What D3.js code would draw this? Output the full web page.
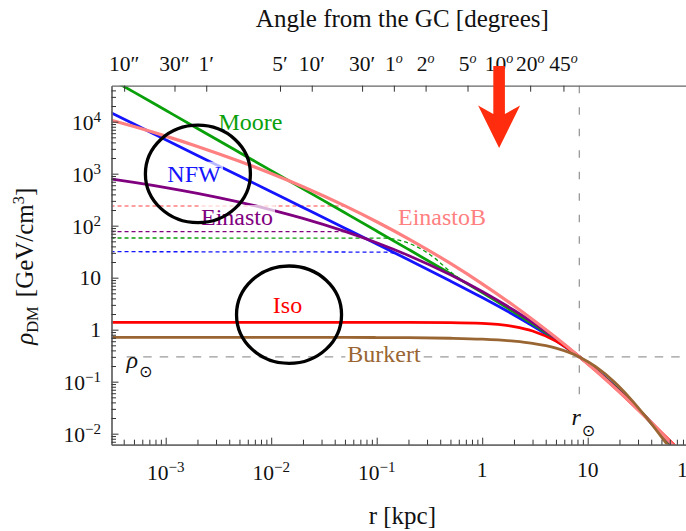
<!DOCTYPE html>
<html>
<head>
<meta charset="utf-8">
<script src="https://cdn.jsdelivr.net/npm/d3@7"></script>
<style>
  html, body { margin: 0; padding: 0; background: #fff; }
  svg { display: block; font-family: "Liberation Serif", "Times New Roman", "DejaVu Serif", serif; }
</style>
</head>
<body>
<svg id="chart" width="686" height="531"></svg>
<script>
// Galactocentric radius samples [kpc]
const radii = [3e-4, 5e-4, 1e-3, 2e-3, 5e-3, 0.01, 0.02, 0.05, 0.1, 0.2, 0.5, 1, 2, 3, 5, 8.33, 12, 18, 25, 35, 50, 70, 100];

// Dark matter density [GeV/cm^3] for each profile at the radii above
const rhoNFW      = [14980, 8987, 4493, 2246, 898.3, 449.0, 224.3, 89.50, 44.57, 22.10, 8.630, 4.147, 1.919, 1.188, 0.6192, 0.2999, 0.1683, 0.08273, 0.04388, 0.02168, 0.009676, 0.004294, 0.001731];
const rhoMoore    = [66970, 37030, 16570, 7415, 2561, 1146, 512.4, 176.7, 78.84, 35.07, 11.90, 5.169, 2.183, 1.289, 0.6403, 0.3000, 0.1662, 0.08137, 0.04332, 0.02159, 0.009761, 0.004387, 0.001792];
const rhoEinasto  = [793.4, 681.5, 542.2, 419.2, 283.8, 202.3, 138.3, 77.62, 47.07, 26.80, 11.41, 5.444, 2.367, 1.387, 0.6697, 0.3029, 0.1643, 0.07957, 0.04259, 0.02163, 0.01010, 0.004711, 0.001999];
const rhoEinastoB = [10770, 8049, 5279, 3348, 1735, 1007, 560.2, 240.0, 119.2, 55.97, 18.79, 7.622, 2.881, 1.573, 0.7059, 0.3025, 0.1602, 0.07669, 0.04120, 0.02129, 0.01029, 0.005047, 0.002303];
const rhoIso      = [1.387, 1.387, 1.387, 1.387, 1.387, 1.387, 1.387, 1.387, 1.386, 1.384, 1.369, 1.318, 1.148, 0.9441, 0.6022, 0.3004, 0.1631, 0.07754, 0.04131, 0.02139, 0.01056, 0.005409, 0.002656];
const rhoBurkert  = [0.7120, 0.7120, 0.7119, 0.7119, 0.7117, 0.7114, 0.7109, 0.7092, 0.7064, 0.7008, 0.6839, 0.6558, 0.6000, 0.5451, 0.4417, 0.2999, 0.1928, 0.09745, 0.04894, 0.02193, 0.008685, 0.003462, 0.001265];

// Smoothed (cored) versions of the cuspy profiles
const smoothEinastoBR   = [3e-4, 0.05];
const smoothEinastoBRho = [239, 239];
const smoothEinastoR    = [3e-4, 0.05];
const smoothEinastoRho  = [76.6, 76.6];
const smoothMooreR      = [3e-4, 0.12, 0.166, 0.258, 0.357, 0.5, 0.65];
const smoothMooreRho    = [58, 57.5, 52, 36.5, 23.5, 13.0, 8.7];
const smoothNFWR        = [3e-4, 0.12, 0.145, 0.17];
const smoothNFWRho      = [31.6, 31.0, 29.3, 26.2];

// Solar position
const rSun = 8.33;
const rhoSun = 0.3;

// Top axis: angle from the Galactic Centre
const angleLabels  = ["10″", "30″", "1′", "5′", "10′", "30′", "1°", "2°", "5°", "10°", "20°", "45°"];
const angleDegrees = [10 / 3600, 30 / 3600, 1 / 60, 5 / 60, 10 / 60, 0.5, 1, 2, 5, 10, 20, 45];

// Bottom / left axis decades
const xDecades = [-3, -2, -1, 0, 1, 2];
const yDecades = [-2, -1, 0, 1, 2, 3, 4];

const plot = { left: 111.5, right: 693.2, top: 85.7, bottom: 444.7 };
const x = d3.scaleLog().domain([3.064e-4, 100]).range([plot.left, plot.right]);
const y = d3.scaleLog().domain([0.00614, 49200]).range([plot.bottom, plot.top]);

const svg = d3.select("#chart");
svg.append("defs").append("clipPath").attr("id", "plotClip")
  .append("rect")
  .attr("x", plot.left).attr("y", plot.top)
  .attr("width", plot.right - plot.left).attr("height", plot.bottom - plot.top);

const colors = {
  Moore: "#0aa00a",
  NFW: "#1414ff",
  Einasto: "#800080",
  EinastoB: "#ff8080",
  Iso: "#ff0000",
  Burkert: "#996633"
};

const line = d3.line()
  .x(d => x(d[0]))
  .y(d => y(d[1]))
  .curve(d3.curveMonotoneX);

const zip = (a, b) => a.map((v, i) => [v, b[i]]);

// ---- reference lines for the solar position ----
const ref = svg.append("g").attr("stroke", "#9a9a9a").attr("stroke-width", 1.3).attr("fill", "none");
ref.append("line")
  .attr("x1", 126.7).attr("x2", plot.right)
  .attr("y1", y(rhoSun)).attr("y2", y(rhoSun))
  .attr("stroke-dasharray", "8.5,8");
ref.append("line")
  .attr("x1", x(rSun)).attr("x2", x(rSun))
  .attr("y1", plot.top).attr("y2", 400)
  .attr("stroke-dasharray", "7.5,14");

// Burkert label sits on the dashed line with an opaque backing
const burkertLabel = svg.append("g");

// ---- curves ----
const curves = svg.append("g").attr("clip-path", "url(#plotClip)").attr("fill", "none");

const smoothed = [
  { r: smoothEinastoBR, rho: smoothEinastoBRho, color: colors.EinastoB },
  { r: smoothEinastoR,  rho: smoothEinastoRho,  color: colors.Einasto },
  { r: smoothMooreR,    rho: smoothMooreRho,    color: colors.Moore },
  { r: smoothNFWR,      rho: smoothNFWRho,      color: colors.NFW }
];
smoothed.forEach(s => {
  curves.append("path")
    .attr("d", line(zip(s.r, s.rho)))
    .attr("stroke", s.color)
    .attr("stroke-width", 1.3)
    .attr("stroke-dasharray", "4,3");
});

const profiles = [
  { rho: rhoNFW,      color: colors.NFW,      w: 2.8 },
  { rho: rhoMoore,    color: colors.Moore,    w: 2.8 },
  { rho: rhoEinasto,  color: colors.Einasto,  w: 2.8 },
  { rho: rhoIso,      color: colors.Iso,      w: 2.8 },
  { rho: rhoEinastoB, color: colors.EinastoB, w: 3.2 },
  { rho: rhoBurkert,  color: colors.Burkert,  w: 2.8 }
];
profiles.forEach(p => {
  curves.append("path")
    .attr("d", line(zip(radii, p.rho)))
    .attr("stroke", p.color)
    .attr("stroke-width", p.w)
    .attr("stroke-linejoin", "round");
});

// ---- axes ----
function minorTicks(lo, hi, eMin, eMax) {
  const out = [];
  for (let e = eMin; e <= eMax; e++) {
    for (let k = 2; k <= 9; k++) {
      const v = k * Math.pow(10, e);
      if (v > lo && v < hi) out.push(v);
    }
  }
  return out;
}

function styleAxis(g) {
  g.select(".domain").attr("stroke", "#666").attr("stroke-width", 1.3);
  g.selectAll(".tick line").attr("stroke", "#333").attr("stroke-width", 1);
}

const xMajor = xDecades.map(e => Math.pow(10, e));
const yMajor = yDecades.map(e => Math.pow(10, e));

svg.append("g").attr("transform", `translate(0,${plot.bottom})`)
  .call(d3.axisBottom(x).tickValues(xMajor).tickSizeInner(-7).tickSizeOuter(0).tickFormat(""))
  .call(styleAxis);
svg.append("g").attr("transform", `translate(0,${plot.bottom})`)
  .call(d3.axisBottom(x).tickValues(minorTicks(3.064e-4, 100, -4, 1)).tickSizeInner(-5).tickSizeOuter(0).tickFormat(""))
  .call(styleAxis);

svg.append("g").attr("transform", `translate(${plot.left},0)`)
  .call(d3.axisLeft(y).tickValues(yMajor).tickSizeInner(-7).tickSizeOuter(0).tickFormat(""))
  .call(styleAxis);
svg.append("g").attr("transform", `translate(${plot.left},0)`)
  .call(d3.axisLeft(y).tickValues(minorTicks(0.00614, 49200, -3, 4)).tickSizeInner(-4.5).tickSizeOuter(0).tickFormat(""))
  .call(styleAxis);

const angleR = angleDegrees.map(a => rSun * Math.sin(a * Math.PI / 180));
svg.append("g").attr("transform", `translate(0,${plot.top})`)
  .call(d3.axisTop(x).tickValues(angleR).tickSizeInner(-6).tickSizeOuter(0).tickFormat(""))
  .call(styleAxis);

// ---- tick labels ----
const tickFont = 21.5;
function powerLabel(sel, e, plainSmall) {
  if (e === 0) { sel.text("1"); return false; }
  if (e === 1) { sel.text("10"); return false; }
  if (e === 2 && plainSmall) { sel.text("100"); return false; }
  sel.append("tspan").text("10");
  sel.append("tspan").attr("font-size", 15).attr("dy", -8.5)
    .text(e < 0 ? "\u2212" + (-e) : String(e));
  return true;
}

xDecades.forEach(e => {
  const t = svg.append("text")
    .attr("x", x(Math.pow(10, e)))
    .attr("text-anchor", "middle")
    .attr("font-size", tickFont)
    .attr("fill", "#111");
  const sup = powerLabel(t, e, true);
  t.attr("y", sup ? 480 : 477);
});

yDecades.forEach(e => {
  const t = svg.append("text")
    .attr("x", 101)
    .attr("text-anchor", "end")
    .attr("font-size", tickFont)
    .attr("fill", "#111");
  const sup = powerLabel(t, e, false);
  t.attr("y", y(Math.pow(10, e)) + (sup ? 8.5 : 7.3));
});

angleLabels.forEach((lab, i) => {
  const t = svg.append("text")
    .attr("x", x(angleR[i]))
    .attr("y", 71)
    .attr("text-anchor", "middle")
    .attr("font-size", tickFont)
    .attr("fill", "#111");
  if (lab.endsWith("°")) {
    t.append("tspan").text(lab.slice(0, -1));
    t.append("tspan").attr("font-size", 14).attr("font-style", "italic").attr("dy", -8).text("o");
  } else {
    t.text(lab);
  }
});

// ---- axis titles ----
const midX = (plot.left + plot.right) / 2;
svg.append("text").attr("x", midX).attr("y", 27).attr("text-anchor", "middle")
  .attr("font-size", 25).attr("fill", "#111").text("Angle from the GC [degrees]");
svg.append("text").attr("x", midX).attr("y", 524).attr("text-anchor", "middle")
  .attr("font-size", 25).attr("fill", "#111").text("r [kpc]");

const yTitle = svg.append("text")
  .attr("transform", `translate(33,${(plot.top + plot.bottom) / 2 + 1}) rotate(-90)`)
  .attr("text-anchor", "middle").attr("font-size", 25).attr("fill", "#111");
yTitle.append("tspan").attr("font-style", "italic").text("ρ");
yTitle.append("tspan").attr("font-size", 16.5).attr("dy", 5).text("DM");
yTitle.append("tspan").attr("dy", -5).attr("dx", 9).text("[GeV/cm");
yTitle.append("tspan").attr("font-size", 16.5).attr("dy", -9).text("3");
yTitle.append("tspan").attr("dy", 9).text("]");

// ---- solar markers ----
const rhoSunLabel = svg.append("text").attr("x", 126.5).attr("y", 368).attr("font-size", 24).attr("fill", "#111");
rhoSunLabel.append("tspan").attr("font-style", "italic").text("ρ");
rhoSunLabel.append("tspan").attr("font-family", "DejaVu Sans").attr("font-size", 16).attr("dx", 1).attr("dy", 9).text("⊙");

const rSunLabel = svg.append("text").attr("x", 571.5).attr("y", 425).attr("font-size", 24).attr("fill", "#111");
rSunLabel.append("tspan").attr("font-style", "italic").text("r");
rSunLabel.append("tspan").attr("font-family", "DejaVu Sans").attr("font-size", 16).attr("dx", 1).attr("dy", 11).text("⊙");

// ---- profile labels ----
function curveLabel(parent, text, cx, baseline, color, bgOpacity) {
  const g = parent.append("g");
  const rect = g.append("rect");
  const t = g.append("text").attr("x", cx).attr("y", baseline)
    .attr("text-anchor", "middle").attr("font-size", 24).attr("fill", color).text(text);
  if (bgOpacity > 0) {
    const b = t.node().getBBox();
    rect.attr("x", b.x - 2).attr("y", b.y + 1).attr("width", b.width + 4).attr("height", b.height - 3)
      .attr("fill", "#fff").attr("fill-opacity", bgOpacity);
  } else {
    rect.remove();
  }
}
curveLabel(burkertLabel, "Burkert", 384, 361.5, colors.Burkert, 1);

const labels = svg.append("g");
curveLabel(labels, "Moore", 250.5, 130, colors.Moore, 0);
curveLabel(labels, "NFW", 194, 181.7, colors.NFW, 0.7);
curveLabel(labels, "Einasto", 237, 225, colors.Einasto, 0.7);
curveLabel(labels, "EinastoB", 442, 225, colors.EinastoB, 0);
curveLabel(labels, "Iso", 287.5, 313, colors.Iso, 0);

// ---- highlight rings ----
const rings = svg.append("g").attr("fill", "none").attr("stroke", "#000").attr("stroke-width", 3.3);
rings.append("ellipse").attr("cx", x(2.02e-3)).attr("cy", y(990)).attr("rx", 52.5).attr("ry", 48.7);
rings.append("ellipse").attr("cx", x(0.01476)).attr("cy", y(1.94)).attr("rx", 52.5).attr("ry", 48.7);

// ---- arrow pointing at 10 degrees ----
const ax = x(rSun * Math.sin(10 * Math.PI / 180));
const arrowPts = [
  [ax - 5.8, 66], [ax + 5.8, 66], [ax + 5.8, 114], [ax + 21, 105.5],
  [ax, 148], [ax - 21, 105.5], [ax - 5.8, 114]
];
svg.append("polygon")
  .attr("points", arrowPts.map(p => p.join(",")).join(" "))
  .attr("fill", "#ff2d0d");
</script>
</body>
</html>
